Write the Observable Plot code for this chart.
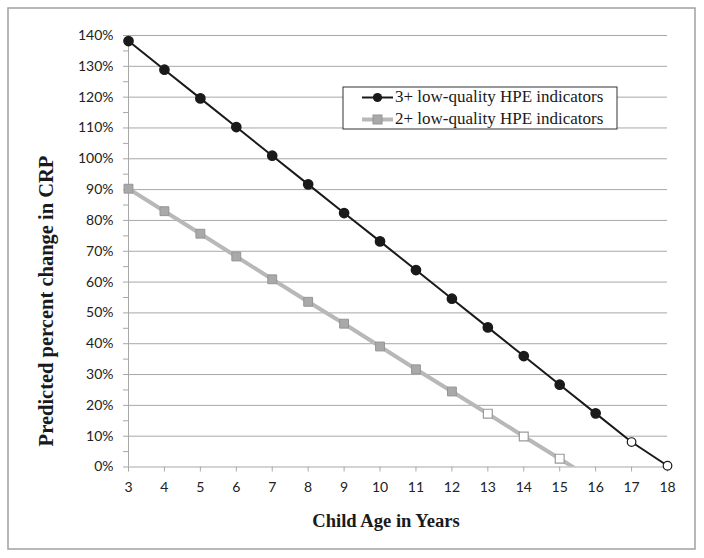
<!DOCTYPE html>
<html>
<head>
<meta charset="utf-8">
<script src="https://cdn.jsdelivr.net/npm/d3@7"></script>
<script src="https://cdn.jsdelivr.net/npm/@observablehq/plot@0.6"></script>
<style>
  html, body { margin: 0; padding: 0; background: white; }
  g[aria-label="y-axis tick label"], g[aria-label="x-axis tick label"] {
    font-family: Lato, 'Open Sans', sans-serif !important;
    font-size: 14px !important;
  }
</style>
</head>
<body>
<div id="chart"></div>
<script>
// Data
const ages = [3, 4, 5, 6, 7, 8, 9, 10, 11, 12, 13, 14, 15, 16, 17, 18];
const crp3 = [138.2, 128.9, 119.6, 110.3, 101.0, 91.7, 82.4, 73.2, 63.9, 54.6, 45.3, 36.0, 26.7, 17.4, 8.1, 0.4];
const sig3 = [true, true, true, true, true, true, true, true, true, true, true, true, true, true, false, false];
const ages2 = [3, 4, 5, 6, 7, 8, 9, 10, 11, 12, 13, 14, 15, 16];
const crp2 = [90.3, 83.0, 75.7, 68.3, 60.9, 53.6, 46.5, 39.1, 31.7, 24.5, 17.3, 9.9, 2.7, -4.6];
const sig2 = [true, true, true, true, true, true, true, true, true, true, false, false, false, false];
const yTicks = [0, 10, 20, 30, 40, 50, 60, 70, 80, 90, 100, 110, 120, 130, 140];
const yMinor = [5, 15, 25, 35, 45, 55, 65, 75, 85, 95, 105, 115, 125, 135];
const seriesNames = ["3+ low-quality HPE indicators", "2+ low-quality HPE indicators"];
const xTitle = "Child Age in Years";
const yTitle = "Predicted percent change in CRP";

const s3 = ages.map((a, i) => ({age: a, v: crp3[i], sig: sig3[i]}));
const s2 = ages2.map((a, i) => ({age: a, v: crp2[i], sig: sig2[i]}));
const inRange = d => d.v >= 0 && d.v <= 140;

const GRID = "#a8a8a8";
const TXT = "#222222";
const BLACK = "#1a1a1a";
const GRAYLINE = "#b8b8b8";
const SERIF = "'Liberation Serif', 'Times New Roman', serif";

const plot = Plot.plot({
  width: 704,
  height: 558,
  marginLeft: 128,
  marginRight: 37,
  marginTop: 35,
  marginBottom: 91.5,
  x: {domain: [3, 18], type: "linear"},
  y: {domain: [0, 140]},
  style: {background: "white", fontFamily: "Lato, 'Open Sans', sans-serif", fontSize: "14px"},
  marks: [
    Plot.ruleY(yTicks, {stroke: GRID, strokeWidth: 1}),
    Plot.ruleX([3], {stroke: GRID, strokeWidth: 1}),
    Plot.axisY({ticks: yTicks, tickFormat: d => d + "%", tickSize: 5, tickPadding: 10, fontSize: 14, stroke: GRID, fill: TXT, label: null}),
    Plot.axisY({ticks: yMinor, tickFormat: () => "", tickSize: 5, stroke: GRID, label: null}),
    Plot.axisX({ticks: ages, tickFormat: d => String(d), tickSize: 5, tickPadding: 10, fontSize: 14, stroke: GRID, fill: TXT, label: null}),
    Plot.line(s2, {x: "age", y: "v", stroke: GRAYLINE, strokeWidth: 4, clip: true}),
    Plot.dot(s2.filter(d => d.sig && inRange(d)), {x: "age", y: "v", symbol: "square", r: 5, fill: "#a9a9a9", stroke: "#959595", strokeWidth: 1}),
    Plot.dot(s2.filter(d => !d.sig && inRange(d)), {x: "age", y: "v", symbol: "square", r: 5, fill: "white", stroke: "#9a9a9a", strokeWidth: 1.2}),
    Plot.line(s3, {x: "age", y: "v", stroke: BLACK, strokeWidth: 2}),
    Plot.dot(s3.filter(d => d.sig), {x: "age", y: "v", r: 4.6, fill: BLACK, stroke: BLACK}),
    Plot.dot(s3.filter(d => !d.sig), {x: "age", y: "v", r: 4.3, fill: "white", stroke: BLACK, strokeWidth: 1.2})
  ]
});

const svg = d3.select(plot);

// Outer border
svg.insert("rect", ":first-child")
  .attr("x", 8).attr("y", 8).attr("width", 687).attr("height", 541)
  .attr("fill", "white").attr("stroke", "#a0a0a0").attr("stroke-width", 1.5);

// Axis titles
svg.append("text")
  .attr("x", 386).attr("y", 523)
  .attr("text-anchor", "middle").attr("dominant-baseline", "middle")
  .attr("font-family", SERIF)
  .attr("font-weight", "bold").attr("font-size", 18.6).attr("fill", "#1a1a1a")
  .text(xTitle);
svg.append("text")
  .attr("transform", "translate(48,301) rotate(-90)")
  .attr("text-anchor", "middle").attr("dominant-baseline", "middle")
  .attr("font-family", SERIF)
  .attr("font-weight", "bold").attr("font-size", 20.5).attr("fill", "#1a1a1a")
  .text(yTitle);

// Legend
const lg = svg.append("g").attr("text-anchor", "start");
lg.append("rect").attr("x", 343).attr("y", 87).attr("width", 274).attr("height", 42)
  .attr("fill", "white").attr("stroke", "#333").attr("stroke-width", 1);
// row 1
lg.append("line").attr("x1", 362).attr("x2", 393).attr("y1", 97.5).attr("y2", 97.5)
  .attr("stroke", BLACK).attr("stroke-width", 2);
lg.append("circle").attr("cx", 377.5).attr("cy", 97.5).attr("r", 4.6).attr("fill", BLACK);
lg.append("text").attr("x", 395).attr("y", 98).attr("dominant-baseline", "middle")
  .attr("text-anchor", "start")
  .attr("font-family", SERIF).attr("font-size", 17)
  .attr("fill", "#1a1a1a").text(seriesNames[0]);
// row 2
lg.append("line").attr("x1", 362).attr("x2", 393).attr("y1", 119.5).attr("y2", 119.5)
  .attr("stroke", GRAYLINE).attr("stroke-width", 4);
lg.append("rect").attr("x", 373).attr("y", 115).attr("width", 9).attr("height", 9)
  .attr("fill", "#a9a9a9").attr("stroke", "#959595");
lg.append("text").attr("x", 395).attr("y", 120).attr("dominant-baseline", "middle")
  .attr("text-anchor", "start")
  .attr("font-family", SERIF).attr("font-size", 17)
  .attr("fill", "#1a1a1a").text(seriesNames[1]);

document.getElementById("chart").appendChild(plot);
</script>
</body>
</html>
